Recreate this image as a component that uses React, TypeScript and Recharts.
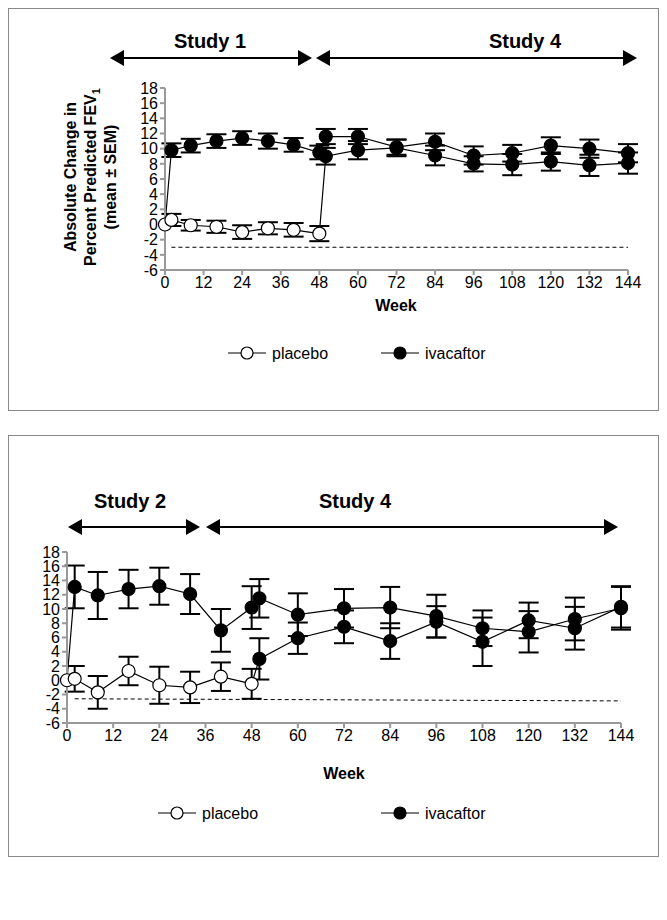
import React from 'react';
import {
  ComposedChart,
  Line,
  XAxis,
  YAxis,
  ErrorBar,
  ReferenceLine,
} from 'recharts';

const weekTicks = [0, 12, 24, 36, 48, 60, 72, 84, 96, 108, 120, 132, 144];
const yTicks = [-6, -4, -2, 0, 2, 4, 6, 8, 10, 12, 14, 16, 18];

// Panel A (Study 1 -> Study 4)
const a_placeboWeeks = [0, 2, 8, 16, 24, 32, 40, 48];
const a_placebo = [0, 0.6, -0.1, -0.3, -1.0, -0.5, -0.7, -1.2];
const a_placeboErr = [0, 0.8, 0.7, 0.8, 0.9, 0.8, 0.9, 1.0];
const a_ivaWeeks = [0, 2, 8, 16, 24, 32, 40, 48, 50, 60, 72, 84, 96, 108, 120, 132, 144];
const a_iva = [0, 9.8, 10.4, 11.0, 11.4, 11.0, 10.5, 9.5, 11.6, 11.6, 10.2, 10.9, 9.1, 9.4, 10.4, 10.0, 9.4];
const a_ivaErr = [0, 0.9, 0.9, 0.9, 0.9, 1.0, 0.9, 0.9, 1.0, 1.0, 1.0, 1.1, 1.2, 1.1, 1.1, 1.2, 1.2];
const a_switchWeeks = [48, 50, 60, 72, 84, 96, 108, 120, 132, 144];
const a_switch = [-1.2, 9.0, 9.8, 10.1, 9.1, 8.0, 7.9, 8.3, 7.8, 8.1];
const a_switchErr = [0, 1.1, 1.2, 1.1, 1.3, 1.0, 1.4, 1.2, 1.4, 1.4];
const a_threshold = [-3.0, -3.0];

// Panel B (Study 2 -> Study 4)
const b_placeboWeeks = [0, 2, 8, 16, 24, 32, 40, 48];
const b_placebo = [0, 0.2, -1.7, 1.3, -0.7, -1.0, 0.5, -0.5];
const b_placeboErr = [0, 1.8, 2.3, 2.0, 2.6, 2.2, 2.0, 2.1];
const b_ivaWeeks = [0, 2, 8, 16, 24, 32, 40, 48, 50, 60, 72, 84, 96, 108, 120, 132, 144];
const b_iva = [0, 13.1, 11.9, 12.8, 13.2, 12.1, 7.0, 10.2, 11.5, 9.2, 10.1, 10.2, 9.0, 7.3, 6.8, 8.6, 10.1];
const b_ivaErr = [0, 3.0, 3.3, 2.7, 2.6, 2.8, 3.0, 3.0, 2.7, 3.0, 2.7, 2.9, 3.0, 2.5, 2.9, 3.0, 3.0];
const b_switchWeeks = [48, 50, 60, 72, 84, 96, 108, 120, 132, 144];
const b_switch = [-0.5, 3.0, 5.9, 7.5, 5.5, 8.2, 5.4, 8.4, 7.3, 10.3];
const b_switchErr = [0, 2.9, 2.2, 2.3, 2.5, 2.2, 3.4, 2.5, 3.0, 2.9];
const b_threshold = [-2.6, -2.9];

const FONT = '"Liberation Sans", Arial, sans-serif';

function zip(weeks: number[], vals: number[], errs: number[]) {
  return weeks.map((w, i) => ({ week: w, value: vals[i], err: errs[i] }));
}

function Dot(props: any) {
  const { cx, cy, payload, fill, hideAt } = props;
  if (cx == null || cy == null) return null;
  if (hideAt !== undefined && payload.week === hideAt) return null;
  return <circle cx={cx} cy={cy} r={6.5} fill={fill} stroke="#000" strokeWidth={1.2} />;
}

function Panel(props: {
  placebo: any[];
  iva: any[];
  sw: any[];
  threshold: number[];
  width: number;
  height: number;
  margin: any;
  yWidth: number;
}) {
  const { placebo, iva, sw, threshold, width, height, margin, yWidth } = props;
  const tick = { fill: '#000', fontSize: 16, fontFamily: FONT };
  return (
    <ComposedChart width={width} height={height} margin={margin}>
      <XAxis
        type="number"
        dataKey="week"
        domain={[0, 144]}
        ticks={weekTicks}
        interval={0}
        tick={tick}
        stroke="#999"
        strokeWidth={2}
        tickSize={5}
        allowDuplicatedCategory={false}
      />
      <YAxis
        type="number"
        domain={[-6, 18]}
        ticks={yTicks}
        interval={0}
        tick={tick}
        width={yWidth}
        stroke="#999"
        strokeWidth={2}
        tickSize={5}
      />
      <ReferenceLine
        segment={[
          { x: 2, y: threshold[0] },
          { x: 144, y: threshold[1] },
        ]}
        stroke="#000"
        strokeDasharray="4 3"
        strokeWidth={1}
      />
      <Line
        data={sw}
        dataKey="value"
        stroke="#000"
        strokeWidth={1.2}
        isAnimationActive={false}
        dot={<Dot fill="#000" hideAt={48} />}
      >
        <ErrorBar dataKey="err" stroke="#000" strokeWidth={2} width={10} direction="y" />
      </Line>
      <Line
        data={iva}
        dataKey="value"
        stroke="#000"
        strokeWidth={1.2}
        isAnimationActive={false}
        dot={<Dot fill="#000" hideAt={0} />}
      >
        <ErrorBar dataKey="err" stroke="#000" strokeWidth={2} width={10} direction="y" />
      </Line>
      <Line
        data={placebo}
        dataKey="value"
        stroke="#000"
        strokeWidth={1.2}
        isAnimationActive={false}
        dot={<Dot fill="#fff" />}
      >
        <ErrorBar dataKey="err" stroke="#000" strokeWidth={2} width={10} direction="y" />
      </Line>
    </ComposedChart>
  );
}

function Arrow({ x1, x2, y }: { x1: number; x2: number; y: number }) {
  return (
    <g>
      <line x1={x1 + 10} x2={x2 - 10} y1={y} y2={y} stroke="#000" strokeWidth={2} />
      <polygon points={`${x1},${y} ${x1 + 14},${y - 8} ${x1 + 14},${y + 8}`} fill="#000" />
      <polygon points={`${x2},${y} ${x2 - 14},${y - 8} ${x2 - 14},${y + 8}`} fill="#000" />
    </g>
  );
}

function Legend({ x1, x2, y }: { x1: number; x2: number; y: number }) {
  const item = (x: number, fill: string, label: string) => (
    <g>
      <line x1={x} x2={x + 38} y1={y} y2={y} stroke="#000" strokeWidth={1.2} />
      <circle cx={x + 19} cy={y} r={6} fill={fill} stroke="#000" strokeWidth={1.2} />
      <text x={x + 44} y={y + 6} fontSize={16} fontFamily={FONT}>
        {label}
      </text>
    </g>
  );
  return (
    <g>
      {item(x1, '#fff', 'placebo')}
      {item(x2, '#000', 'ivacaftor')}
    </g>
  );
}

const boxStyle: React.CSSProperties = {
  position: 'absolute',
  border: '1px solid #888',
  boxSizing: 'border-box',
};

export default function App() {
  return (
    <div style={{ position: 'relative', width: 667, height: 920, margin: -8, fontFamily: FONT }}>
      <div style={{ ...boxStyle, left: 8, top: 8, width: 651, height: 403 }} />
      <div style={{ ...boxStyle, left: 8, top: 435, width: 651, height: 422 }} />

      <div style={{ position: 'absolute', left: 0, top: 0 }}>
        <Panel
          placebo={zip(a_placeboWeeks, a_placebo, a_placeboErr)}
          iva={zip(a_ivaWeeks, a_iva, a_ivaErr)}
          sw={zip(a_switchWeeks, a_switch, a_switchErr)}
          threshold={a_threshold}
          width={667}
          height={300}
          margin={{ top: 88, right: 39, bottom: 0, left: 0 }}
          yWidth={165}
        />
      </div>
      <div style={{ position: 'absolute', left: 0, top: 0 }}>
        <Panel
          placebo={zip(b_placeboWeeks, b_placebo, b_placeboErr)}
          iva={zip(b_ivaWeeks, b_iva, b_ivaErr)}
          sw={zip(b_switchWeeks, b_switch, b_switchErr)}
          threshold={b_threshold}
          width={667}
          height={753}
          margin={{ top: 552, right: 46, bottom: 0, left: 0 }}
          yWidth={67}
        />
      </div>

      <svg width={667} height={920} style={{ position: 'absolute', left: 0, top: 0, pointerEvents: 'none' }}>
        <text x={210} y={48} textAnchor="middle" fontSize={20} fontWeight="bold" fontFamily={FONT}>
          Study 1
        </text>
        <text x={525} y={48} textAnchor="middle" fontSize={20} fontWeight="bold" fontFamily={FONT}>
          Study 4
        </text>
        <Arrow x1={110} x2={312} y={58} />
        <Arrow x1={316} x2={637} y={58} />
        <g transform="translate(102,177) rotate(-90)" fontSize={16} fontWeight="bold" fontFamily={FONT}>
          <text x={0} y={-26} textAnchor="middle">Absolute Change in</text>
          <text x={0} y={-6} textAnchor="middle">
            Percent Predicted FEV<tspan fontSize={11} dy={4}>1</tspan>
          </text>
          <text x={0} y={14} textAnchor="middle">(mean ± SEM)</text>
        </g>
        <text x={396} y={311} textAnchor="middle" fontSize={16} fontWeight="bold" fontFamily={FONT}>
          Week
        </text>
        <Legend x1={228} x2={381} y={353} />

        <text x={130} y={508} textAnchor="middle" fontSize={20} fontWeight="bold" fontFamily={FONT}>
          Study 2
        </text>
        <text x={355} y={508} textAnchor="middle" fontSize={20} fontWeight="bold" fontFamily={FONT}>
          Study 4
        </text>
        <Arrow x1={68} x2={200} y={527} />
        <Arrow x1={206} x2={618} y={527} />
        <text x={344} y={779} textAnchor="middle" fontSize={16} fontWeight="bold" fontFamily={FONT}>
          Week
        </text>
        <Legend x1={158} x2={381} y={813} />
      </svg>
    </div>
  );
}
